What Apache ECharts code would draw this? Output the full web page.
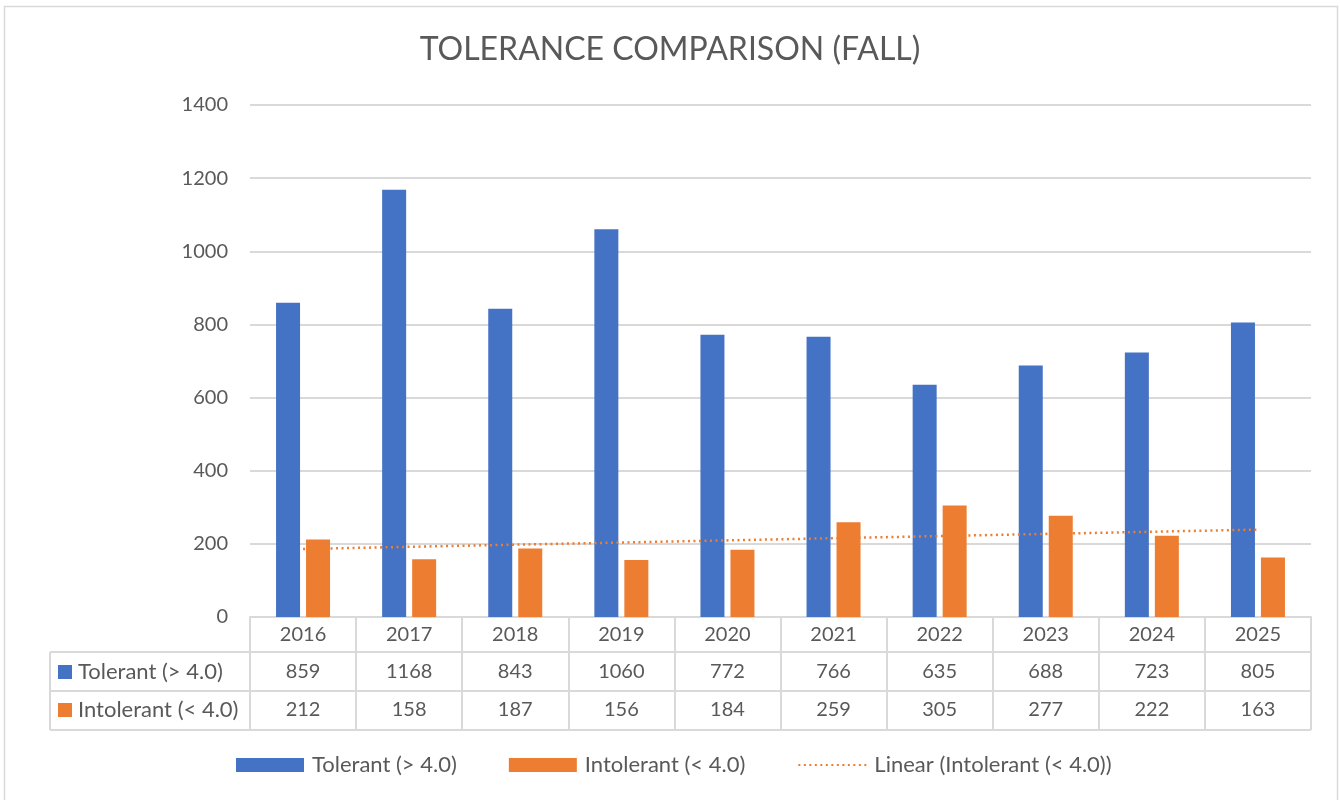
<!DOCTYPE html>
<html>
<head>
<meta charset="utf-8">
<script src="https://cdn.jsdelivr.net/npm/echarts@6/dist/echarts.min.js"></script>
<style>
  html, body { margin: 0; padding: 0; background: #fff; }
  #chart { width: 1340px; height: 800px; }
</style>
</head>
<body>
<div id="chart"></div>
<script>
var years = ['2016', '2017', '2018', '2019', '2020', '2021', '2022', '2023', '2024', '2025'];
var tolerant = [859, 1168, 843, 1060, 772, 766, 635, 688, 723, 805];
var intolerant = [212, 158, 187, 156, 184, 259, 305, 277, 222, 163];
// trendline ends (2016 -> 2025)
var trendEnds = [['2016', 186], ['2025', 239]];

var FONT = 'Lato, "Open Sans", sans-serif';
var TEXT = '#595959';
var LINE = '#d9d9d9';
var BLUE = '#4472C4';
var ORANGE = '#ED7D31';

var dom = document.getElementById('chart');
var myChart = echarts.init(dom);

var option = {
    backgroundColor: '#fff',
    animation: false,
    textStyle: { fontFamily: FONT },
    title: {
        text: 'TOLERANCE COMPARISON (FALL)',
        left: 'center',
        top: 29,
        textStyle: { color: TEXT, fontSize: 32, fontWeight: 'normal', fontFamily: FONT }
    },
    legend: {
        bottom: 19,
        left: 231,
        itemGap: 52,
        itemWidth: 68,
        itemHeight: 14,
        textStyle: { color: TEXT, fontSize: 22, fontFamily: FONT, padding: [0, 0, 0, 3] },
        data: [
            { name: 'Tolerant (> 4.0)', icon: 'rect' },
            { name: 'Intolerant (< 4.0)', icon: 'rect' },
            { name: 'Linear (Intolerant (< 4.0))', itemStyle: { opacity: 0 } }
        ]
    },
    grid: { left: 250, right: 29, top: 105, bottom: 183 },
    xAxis: {
        type: 'category',
        data: years,
        axisLine: { lineStyle: { color: LINE, width: 2 } },
        axisTick: { show: true, length: 113, lineStyle: { color: LINE, width: 2 } },
        axisLabel: {
            margin: 0,
            verticalAlign: 'top',
            formatter: function (v, i) {
                return '{y|' + v + '}\n{a|' + tolerant[i] + '}\n{b|' + intolerant[i] + '}';
            },
            rich: {
                y: { fontSize: 20, color: TEXT, height: 36, lineHeight: 36, fontFamily: FONT },
                a: { fontSize: 20, color: TEXT, height: 38, lineHeight: 38, fontFamily: FONT },
                b: { fontSize: 20, color: TEXT, height: 38, lineHeight: 38, fontFamily: FONT }
            }
        }
    },
    yAxis: {
        type: 'value',
        min: 0,
        max: 1400,
        interval: 200,
        axisLine: { show: false },
        axisTick: { show: false },
        axisLabel: { color: TEXT, fontSize: 20, margin: 22, fontFamily: FONT, formatter: function (v) { return String(v); } },
        splitLine: { lineStyle: { color: LINE, width: 2 } }
    },
    graphic: [
        { type: 'rect', shape: { x: 4.5, y: 6.5, width: 1333, height: 800 }, style: { fill: 'none', stroke: LINE, lineWidth: 1.5 }, silent: true },
        { type: 'line', shape: { x1: 50, y1: 652, x2: 1311, y2: 652 }, style: { stroke: LINE, lineWidth: 2 } },
        { type: 'line', shape: { x1: 50, y1: 691, x2: 1311, y2: 691 }, style: { stroke: LINE, lineWidth: 2 } },
        { type: 'line', shape: { x1: 50, y1: 730, x2: 1311, y2: 730 }, style: { stroke: LINE, lineWidth: 2 } },
        { type: 'line', shape: { x1: 50, y1: 652, x2: 50, y2: 730 }, style: { stroke: LINE, lineWidth: 2 } },
        { type: 'rect', shape: { x: 58, y: 665, width: 14, height: 14 }, style: { fill: BLUE } },
        { type: 'text', x: 78, y: 672, style: { text: 'Tolerant (> 4.0)', fill: TEXT, fontSize: 22, fontFamily: FONT, verticalAlign: 'middle' } },
        { type: 'rect', shape: { x: 58, y: 703, width: 14, height: 14 }, style: { fill: ORANGE } },
        { type: 'text', x: 78, y: 710, style: { text: 'Intolerant (< 4.0)', fill: TEXT, fontSize: 22, fontFamily: FONT, verticalAlign: 'middle' } }
    ],
    series: [
        {
            name: 'Tolerant (> 4.0)',
            type: 'bar',
            data: tolerant,
            barWidth: 24,
            barGap: '25%',
            itemStyle: { color: BLUE }
        },
        {
            name: 'Intolerant (< 4.0)',
            type: 'bar',
            data: intolerant,
            barWidth: 24,
            itemStyle: { color: ORANGE }
        },
        {
            name: 'Linear (Intolerant (< 4.0))',
            type: 'line',
            data: trendEnds,
            symbol: 'none',
            itemStyle: { color: ORANGE },
            lineStyle: { color: ORANGE, width: 2.5, type: [2, 3.5] },
            z: 3
        }
    ]
};

if (option && typeof option === 'object') {
    myChart.setOption(option, true);
}
window.addEventListener('resize', function () {
    myChart.resize();
});
</script>
</body>
</html>
